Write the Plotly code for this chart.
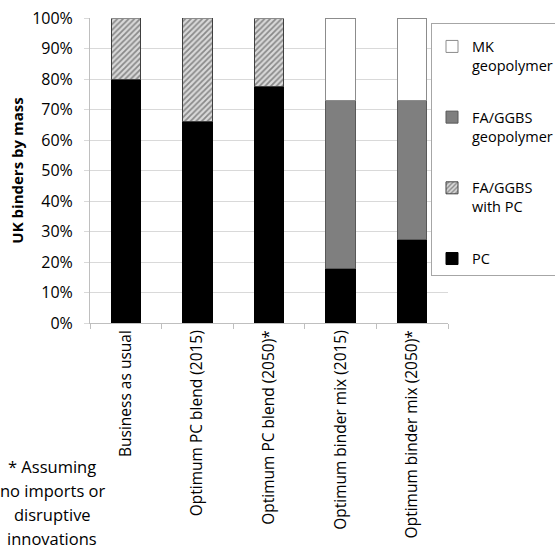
import plotly.graph_objects as go

# Scenario categories and binder shares (% of UK binders by mass)
scenarios = [
    "Business as usual",
    "Optimum PC blend (2015)",
    "Optimum PC blend (2050)*",
    "Optimum binder mix (2015)",
    "Optimum binder mix (2050)*",
]
pc = [80, 66, 77.5, 18, 27.5]
fa_ggbs_with_pc = [20, 34, 22.5, 0, 0]
fa_ggbs_geopolymer = [0, 0, 0, 55, 45.5]
mk_geopolymer = [0, 0, 0, 27, 27]

y_ticks = list(range(0, 101, 10))
y_tick_text = [f"{v}%" for v in y_ticks]

footnote_lines = ["* Assuming", "no imports or", "disruptive", "innovations"]

FONT = "Open Sans"
W, H = 555, 549
ML, MR, MT, MB = 90, 107, 18, 226

fig = go.Figure()

fig.add_trace(go.Bar(
    x=scenarios, y=pc, name="PC", legendgroup="pc", legendrank=4,
    marker=dict(color="#000000", line=dict(color="#000000", width=1)),
))
fig.add_trace(go.Bar(
    x=scenarios, y=fa_ggbs_with_pc, name="FA/GGBS<br>with PC",
    legendgroup="fapc", legendrank=3,
    marker=dict(
        color="#d9d9d9",
        line=dict(color="#404040", width=1),
        pattern=dict(shape="/", fgcolor="#3a3a3a", bgcolor="#d9d9d9",
                     size=4, solidity=0.45),
    ),
))
fig.add_trace(go.Bar(
    x=scenarios, y=fa_ggbs_geopolymer, name="FA/GGBS<br>geopolymer",
    legendgroup="fageo", legendrank=2,
    marker=dict(color="#7f7f7f", line=dict(color="#595959", width=1)),
))
fig.add_trace(go.Bar(
    x=scenarios, y=mk_geopolymer, name="MK<br>geopolymer",
    legendgroup="mk", legendrank=1,
    marker=dict(color="#ffffff", line=dict(color="#8c8c8c", width=1)),
))

plot_w = W - ML - MR
plot_h = H - MT - MB

def px_to_paper_x(px):
    return (px - ML) / plot_w

def px_to_paper_y(py):
    return (H - MB - py) / plot_h

for i, line in enumerate(footnote_lines):
    fig.add_annotation(
        text=line, xref="paper", yref="paper",
        x=px_to_paper_x(52), y=px_to_paper_y(467 + 23.7 * i),
        xanchor="center", yanchor="middle", showarrow=False,
        font=dict(family=FONT, size=16.5, color="#000000"),
    )

fig.update_layout(
    width=W, height=H,
    margin=dict(l=ML, r=MR, t=MT, b=MB, autoexpand=False),
    paper_bgcolor="#ffffff", plot_bgcolor="#ffffff",
    barmode="stack", bargap=0.59,
    font=dict(family=FONT, size=15, color="#000000"),
    legend=dict(
        x=px_to_paper_x(431), y=px_to_paper_y(23),
        xanchor="left", yanchor="top",
        bordercolor="#a6a6a6", borderwidth=1, bgcolor="#ffffff",
        traceorder="grouped", tracegroupgap=30, valign="top",
        font=dict(family=FONT, size=14.5, color="#000000"),
        itemwidth=30,
        title=dict(text=" ", font=dict(family=FONT, size=5)),
    ),
    xaxis=dict(
        tickangle=-90, tickson="boundaries", ticks="outside", ticklen=5,
        tickcolor="#bfbfbf", showline=True, linecolor="#bfbfbf",
        showgrid=False, automargin=False,
        tickfont=dict(family=FONT, size=15.5, color="#000000"),
    ),
    yaxis=dict(
        range=[0, 100], tickvals=y_ticks, ticktext=y_tick_text,
        ticks="outside", ticklen=5, tickcolor="#d9d9d9",
        showline=True, linecolor="#bfbfbf",
        showgrid=True, gridcolor="#d9d9d9", gridwidth=1,
        ticklabelstandoff=8, automargin=False,
        tickfont=dict(family=FONT, size=16, color="#000000"),
        title=dict(text="<b>UK binders by mass</b>", standoff=4,
                   font=dict(family=FONT, size=15, color="#000000")),
    ),
)

fig.write_html("out.html")
